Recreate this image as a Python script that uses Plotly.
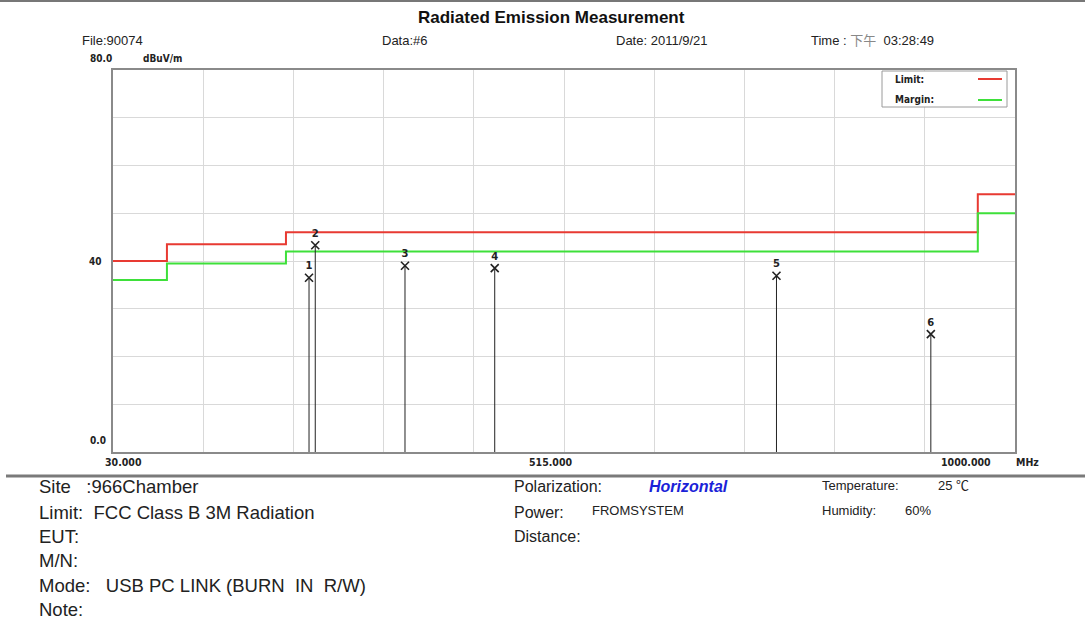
import plotly.graph_objects as go

# ---------------- data ----------------
limit_freq = [30, 88, 216, 960, 1000]
limit_level = [40, 43.5, 46, 54, 54]
margin_freq = [30, 88, 216, 960, 1000]
margin_level = [36, 39.5, 42, 50, 50]

peak_ids = ["1", "2", "3", "4", "5", "6"]
peak_freq = [240.8, 247.5, 344.0, 440.5, 743.5, 909.5]
peak_level = [36.5, 43.3, 39.0, 38.5, 36.9, 24.7]

x_tick_vals = [30, 515, 1000]
x_tick_text = ["30.000", "515.000", "1000.000"]
y_tick_vals = [80, 40, 0]
y_tick_text = ["80.0", "40", "0.0"]

W, H = 1085, 623
L, R, T, B = 113, 1015, 70, 452


def px(x):
    return (x - L) / (R - L)


def py(y):
    return (B - y) / (B - T)


fig = go.Figure()

fig.add_trace(go.Scatter(x=limit_freq, y=limit_level, mode="lines",
                         line=dict(color="#e83a32", width=2, shape="hv"),
                         showlegend=False, hoverinfo="skip"))
fig.add_trace(go.Scatter(x=margin_freq, y=margin_level, mode="lines",
                         line=dict(color="#3ee03a", width=2, shape="hv"),
                         showlegend=False, hoverinfo="skip"))

# stems
sx, sy = [], []
for f, v in zip(peak_freq, peak_level):
    sx += [f, f, None]
    sy += [0, v, None]
fig.add_trace(go.Scatter(x=sx, y=sy, mode="lines",
                         line=dict(color="#222222", width=1),
                         showlegend=False, hoverinfo="skip"))
fig.add_trace(go.Scatter(x=peak_freq, y=peak_level, mode="markers+text",
                         text=["<b>" + s + "</b>" for s in peak_ids],
                         textposition="top center",
                         textfont=dict(family="DejaVu Sans", size=10, color="#222"),
                         marker=dict(symbol="x-thin", size=8,
                                     line=dict(color="#222222", width=1.6)),
                         showlegend=False, hoverinfo="skip"))

fig.update_xaxes(range=[30, 1000], tick0=30, dtick=97, showticklabels=False,
                 showgrid=True, gridcolor="#d9d9d9", gridwidth=1, zeroline=False,
                 showline=True, linecolor="#8a8a8a", linewidth=2, mirror=True,
                 ticks="")
fig.update_yaxes(range=[0, 80], dtick=10, showticklabels=False,
                 showgrid=True, gridcolor="#d9d9d9", gridwidth=1, zeroline=False,
                 showline=True, linecolor="#8a8a8a", linewidth=2, mirror=True,
                 ticks="")

ann = []
shapes = []

TF = "Liberation Sans, Arial, sans-serif"
BF = "DejaVu Sans Condensed, DejaVu Sans, sans-serif"


def text(x, y, s, size=12, color="#222", anchor="left", bold=False, family=TF, italic=False):
    if bold:
        s = "<b>" + s + "</b>"
    if italic:
        s = "<i>" + s + "</i>"
    ann.append(dict(x=px(x), y=py(y), xref="paper", yref="paper", text=s,
                    showarrow=False, xanchor=anchor, yanchor="middle",
                    font=dict(family=family, size=size, color=color)))


# title and header
text(551, 17, "Radiated Emission Measurement", size=17, anchor="center", bold=True, color="#111")
text(80, 40, "File:90074", size=13)
text(380, 40, "Data:#6", size=13)
text(614, 40, "Date: 2011/9/21", size=13)
text(809, 40, "Time : <span style='color:#888'>下午</span>  03:28:49", size=13,
     family="Liberation Sans, Noto Sans CJK SC, sans-serif")

# axis labels
text(101, 59, y_tick_text[0], size=10, anchor="center", bold=True, family=BF)
text(162, 59, "dBuV/m", size=10, anchor="center", bold=True, family=BF)
text(104, 261, y_tick_text[1], size=10, anchor="right", bold=True, family=BF)
text(108, 440, y_tick_text[2], size=10, anchor="right", bold=True, family=BF)
xlab_pos = [123, 550, 966]
for v, t, xp in zip(x_tick_vals, x_tick_text, xlab_pos):
    text(xp, 462, t, size=10.5, anchor="center", bold=True, family=BF)
text(1014, 462, "MHz", size=10.5, anchor="left", bold=True, family=BF)

# legend box
shapes.append(dict(type="rect", xref="paper", yref="paper",
                   x0=px(882), x1=px(1007), y0=py(107), y1=py(71),
                   fillcolor="white", line=dict(color="#9a9a9a", width=1)))
text(893, 79, "Limit:", size=10, bold=True, family=BF)
text(893, 99, "Margin:", size=10, bold=True, family=BF)
shapes.append(dict(type="line", xref="paper", yref="paper",
                   x0=px(978), x1=px(1002), y0=py(79), y1=py(79),
                   line=dict(color="#e83a32", width=2)))
shapes.append(dict(type="line", xref="paper", yref="paper",
                   x0=px(978), x1=px(1002), y0=py(100), y1=py(100),
                   line=dict(color="#3ee03a", width=2)))

# separators
shapes.append(dict(type="line", xref="paper", yref="paper",
                   x0=px(0), x1=px(W), y0=py(1), y1=py(1),
                   line=dict(color="#777", width=2)))
shapes.append(dict(type="line", xref="paper", yref="paper",
                   x0=px(6), x1=px(W), y0=py(476), y1=py(476),
                   line=dict(color="#7a7a7a", width=3)))

# bottom info
rows = [487, 512, 536, 560, 585, 609]
LS = 18.5
text(37, rows[0], "Site&nbsp;&nbsp;&nbsp;:966Chamber", size=LS)
text(37, rows[1], "Limit:&nbsp;&nbsp;FCC Class B 3M Radiation", size=LS)
text(37, rows[2], "EUT:", size=LS)
text(37, rows[3], "M/N:", size=LS)
text(37, rows[4], "Mode:&nbsp;&nbsp;&nbsp;USB PC LINK (BURN&nbsp;&nbsp;IN&nbsp;&nbsp;R/W)", size=LS)
text(37, rows[5], "Note:", size=LS)

text(512, rows[0], "Polarization:", size=16)
text(647, rows[0], "Horizontal", size=16, bold=True, italic=True, color="#1a22d8")
text(512, rows[1], "Power:", size=16)
text(590, rows[1]-2, "FROMSYSTEM", size=13)
text(512, rows[2], "Distance:", size=16)

text(820, rows[0]-2, "Temperature:", size=13)
text(936, rows[0]-2, "25 ℃", size=13, family="Liberation Sans, Noto Sans CJK SC, sans-serif")
text(820, rows[1]-2, "Humidity:", size=13)
text(903, rows[1]-2, "60%", size=13)

fig.update_layout(width=W, height=H, margin=dict(l=L, r=W - R, t=T, b=H - B),
                  paper_bgcolor="white", plot_bgcolor="white",
                  annotations=ann, shapes=shapes, showlegend=False)

fig.write_html("out.html", config={"displayModeBar": False},
               post_script="document.body.style.margin='0';document.body.style.overflow='hidden';")
